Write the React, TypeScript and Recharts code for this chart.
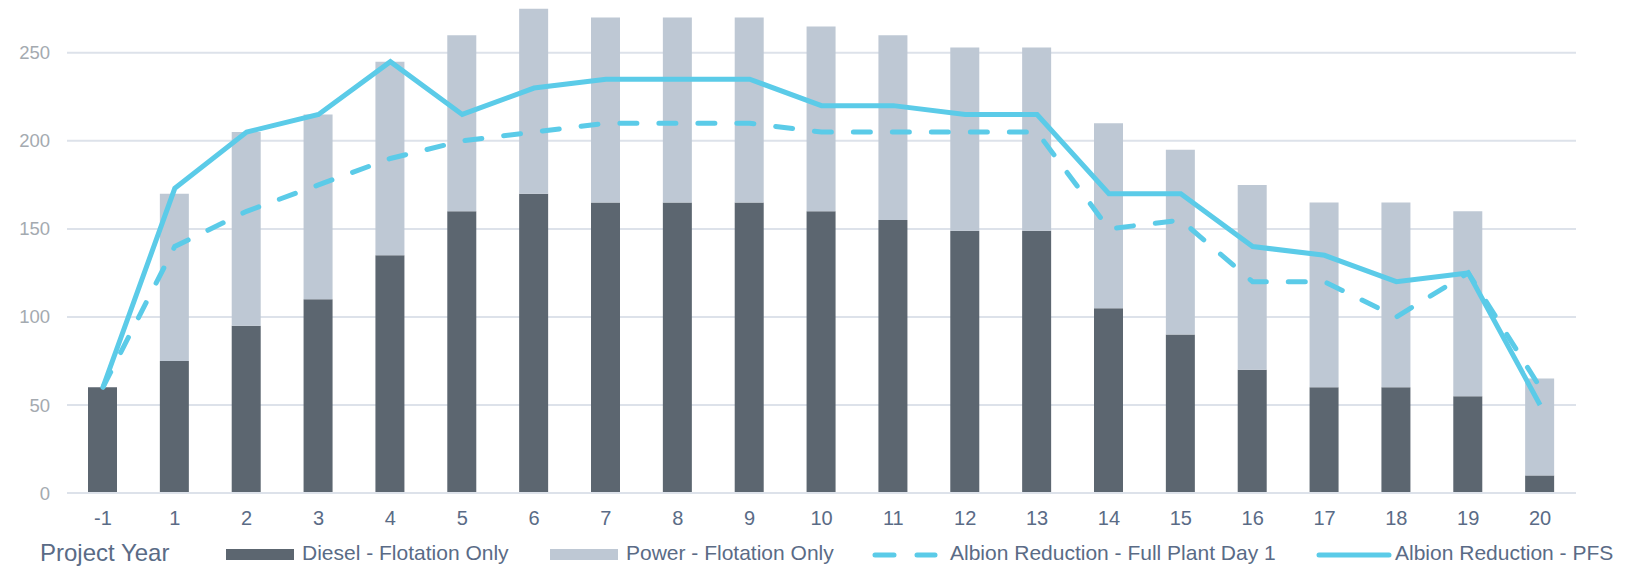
import React from "react";
import {
  ComposedChart,
  Bar,
  Line,
  XAxis,
  YAxis,
  CartesianGrid,
  Legend,
} from "recharts";

const years = ["-1", "1", "2", "3", "4", "5", "6", "7", "8", "9", "10", "11", "12", "13", "14", "15", "16", "17", "18", "19", "20"];
const diesel = [60, 75, 95, 110, 135, 160, 170, 165, 165, 165, 160, 155, 149, 149, 105, 90, 70, 60, 60, 55, 10];
const power = [0, 95, 110, 105, 110, 100, 105, 105, 105, 105, 105, 105, 104, 104, 105, 105, 105, 105, 105, 105, 55];
const fullPlant = [60, 140, 160, 175, 190, 200, 205, 210, 210, 210, 205, 205, 205, 205, 150, 155, 120, 120, 100, 125, 60];
const pfs = [60, 173, 205, 215, 245, 215, 230, 235, 235, 235, 220, 220, 215, 215, 170, 170, 140, 135, 120, 125, 50];
const yTicks = [0, 50, 100, 150, 200, 250];

const FONT = "'Liberation Sans', Arial, sans-serif";
const DARK = "#5c6670";
const LIGHT = "#bec8d4";
const BLUE = "#5bcbe8";
const GRID = "#dde2ea";
const LABEL = "#5a6b86";

const data = years.map((y, i) => ({
  year: y,
  diesel: diesel[i],
  power: power[i],
  fullPlant: fullPlant[i],
  pfs: pfs[i],
}));

const textStyle: React.CSSProperties = {
  position: "absolute",
  top: 0,
  fontSize: 21,
  lineHeight: "33px",
  color: LABEL,
  whiteSpace: "nowrap",
};

const ChartLegend = () => (
  <div style={{ position: "relative", width: 1638, height: 33, fontFamily: FONT }}>
    <span style={{ ...textStyle, left: 40, fontSize: 24 }}>Project Year</span>

    <div style={{ position: "absolute", left: 226, top: 13, width: 68, height: 11, background: DARK }} />
    <span style={{ ...textStyle, left: 302 }}>Diesel - Flotation Only</span>

    <div style={{ position: "absolute", left: 550, top: 13, width: 68, height: 11, background: LIGHT }} />
    <span style={{ ...textStyle, left: 626 }}>Power - Flotation Only</span>

    <svg style={{ position: "absolute", left: 870, top: 8 }} width={70} height={20}>
      <line x1={5} y1={11} x2={65} y2={11} stroke={BLUE} strokeWidth={5} strokeDasharray="19 23" strokeLinecap="round" />
    </svg>
    <span style={{ ...textStyle, left: 950 }}>Albion Reduction - Full Plant Day 1</span>

    <svg style={{ position: "absolute", left: 1315, top: 8 }} width={78} height={20}>
      <line x1={4} y1={11} x2={74} y2={11} stroke={BLUE} strokeWidth={5} strokeLinecap="round" />
    </svg>
    <span style={{ ...textStyle, left: 1395 }}>Albion Reduction - PFS</span>
  </div>
);

export default function App() {
  return (
    <div style={{ position: "absolute", left: 0, top: 0, background: "#fff" }}>
      <ComposedChart
        width={1638}
        height={569}
        data={data}
        margin={{ top: 0, right: 62, left: 0, bottom: 46 }}
        barSize={29}
      >
        <CartesianGrid vertical={false} horizontalValues={yTicks} stroke={GRID} strokeWidth={2} />
        <XAxis
          dataKey="year"
          axisLine={{ stroke: GRID, strokeWidth: 2 }}
          tickLine={false}
          tickSize={0}
          tickMargin={18}
          height={30}
          interval={0}
          tick={{ fill: LABEL, fontSize: 20, fontFamily: FONT }}
        />
        <YAxis
          domain={[0, 280]}
          ticks={yTicks}
          width={67}
          axisLine={false}
          tickLine={false}
          tickSize={0}
          tickMargin={17}
          tick={{ fill: "#a4aab0", fontSize: 18.5, fontFamily: FONT }}
        />
        <Legend
          layout="horizontal"
          verticalAlign="middle"
          align="center"
          content={() => <ChartLegend />}
          wrapperStyle={{ left: 0, top: 536, width: 1638, height: 33 }}
        />
        <Bar dataKey="diesel" name="Diesel - Flotation Only" stackId="a" fill={DARK} isAnimationActive={false} />
        <Bar dataKey="power" name="Power - Flotation Only" stackId="a" fill={LIGHT} isAnimationActive={false} />
        <Line
          type="linear"
          dataKey="fullPlant"
          name="Albion Reduction - Full Plant Day 1"
          stroke={BLUE}
          strokeWidth={5}
          strokeDasharray="17 22"
          strokeLinecap="round"
          dot={false}
          activeDot={false}
          isAnimationActive={false}
        />
        <Line
          type="linear"
          dataKey="pfs"
          name="Albion Reduction - PFS"
          stroke={BLUE}
          strokeWidth={5}
          dot={false}
          activeDot={false}
          isAnimationActive={false}
        />
      </ComposedChart>
    </div>
  );
}
